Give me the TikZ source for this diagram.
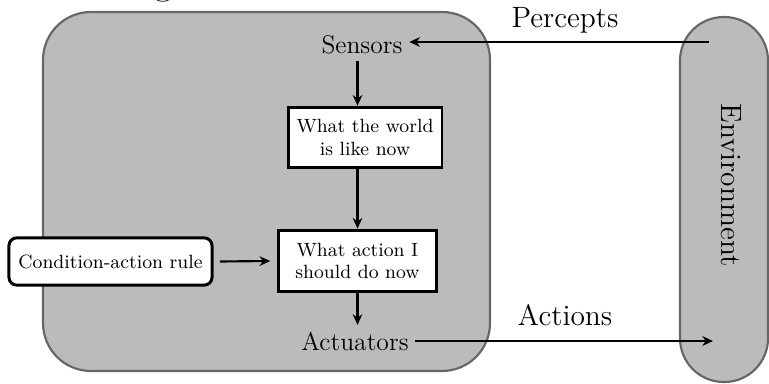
\documentclass[tikz,border=0pt]{standalone}
\usepackage{tikz}
\usetikzlibrary{arrows.meta,positioning}
\definecolor{cShell}{RGB}{187,187,187}
\definecolor{cEdge}{RGB}{102,102,102}
\tikzset{
  shell/.style={draw=cEdge,fill=cShell,line width=1pt},
  stepbox/.style={rectangle,draw=black,fill=white,line width=1.4pt,
                  align=center,inner sep=1pt,font=\fontsize{9}{10.5}\selectfont},
  rulebox/.style={stepbox,rounded corners=0.13cm},
  partlbl/.style={inner sep=3pt,font=\fontsize{12}{14}\selectfont},
  biglbl/.style={inner sep=1pt,font=\fontsize{13.8}{16}\selectfont},
  arr/.style={-{Stealth[length=5pt,width=4.5pt]},line width=1pt,color=black}
}
\begin{document}
\begin{tikzpicture}[x=0.0165cm,y=-0.0165cm]
  \useasboundingbox (0,0) rectangle (769,384);

  % Agent and environment shells
  \draw[shell,rounded corners=0.79cm] (43,12) rectangle (490,371);
  \node[font=\fontsize{20}{24}\selectfont,anchor=base west,inner sep=0pt] (agentlbl) at (124,-6.5) {Agent};
  \draw[shell,rounded corners=0.72cm] (680,17) rectangle (768,382);
  \node[biglbl,rotate=-90] (envlbl) at (731,185) {Environment};

  % Inner parts
  \node[partlbl] (sensors) at (362,45) {Sensors};
  \node[stepbox,minimum width=2.54cm,minimum height=1.0cm] (world) at (365,137.5)
       {What the world\\is like now};
  \node[stepbox,minimum width=2.62cm,minimum height=1.02cm] (action) at (357.5,261)
       {What action I\\should do now};
  \node[partlbl] (actuators) at (355,341) {Actuators};
  \node[rulebox,minimum width=3.35cm,minimum height=0.78cm] (rule) at (110.5,261.5)
       {Condition-action rule};

  % Flow inside the agent
  \draw[arr] (sensors.south -| action.north) -- (action.north |- world.north);
  \draw[arr] (action.north |- world.south) -- (action.north);
  \draw[arr] (action.south) -- (action.south |- actuators.north);
  \draw[arr] ([xshift=3pt]rule.east) -- ([xshift=-3pt]action.west);

  % Percepts and actions
  \coordinate (envin) at (709,42);
  \coordinate (envout) at (713,341);
  \draw[arr] (envin) -- (sensors.east |- envin);
  \node[biglbl] (perceptlbl) at (565,20) {Percepts};
  \draw[arr] (actuators.east) -- (actuators.east -| envout);
  \node[biglbl] (actionlbl) at (565,315) {Actions};
\end{tikzpicture}
\end{document}
